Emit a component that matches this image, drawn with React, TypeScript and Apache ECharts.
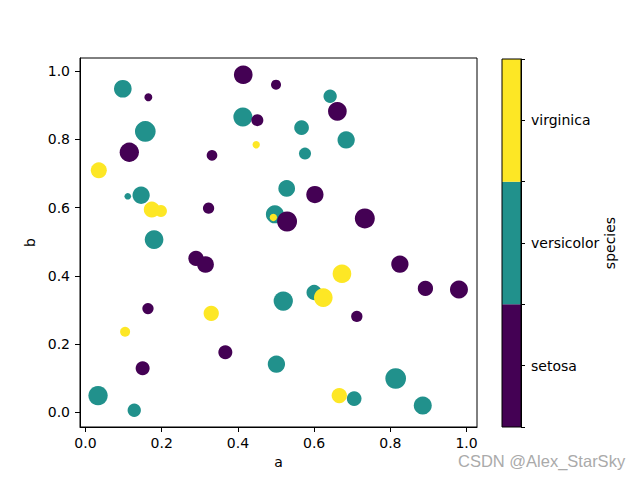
import React, { useEffect, useRef } from "react";
import * as echarts from "echarts";

// ---- data ----
const species = ["setosa", "versicolor", "virginica"];
const speciesColors = ["#440154", "#21918c", "#fde725"];

const setosaA = [0.414, 0.165, 0.5, 0.451, 0.661, 0.115, 0.332, 0.323, 0.602, 0.733, 0.529, 0.29, 0.315, 0.825, 0.892, 0.98, 0.164, 0.712, 0.367, 0.15];
const setosaB = [0.989, 0.923, 0.96, 0.856, 0.882, 0.762, 0.753, 0.598, 0.638, 0.568, 0.559, 0.451, 0.433, 0.434, 0.363, 0.36, 0.304, 0.281, 0.176, 0.129];
const setosaS = [181, 33, 52, 75, 181, 193, 59, 66, 155, 207, 207, 121, 145, 155, 121, 168, 66, 66, 102, 102];

const versicolorA = [0.098, 0.413, 0.642, 0.157, 0.567, 0.684, 0.576, 0.111, 0.146, 0.528, 0.497, 0.18, 0.6, 0.519, 0.501, 0.814, 0.033, 0.128, 0.705, 0.885];
const versicolorB = [0.948, 0.865, 0.926, 0.823, 0.834, 0.798, 0.758, 0.633, 0.636, 0.656, 0.58, 0.506, 0.351, 0.326, 0.141, 0.099, 0.049, 0.006, 0.04, 0.02];
const versicolorS = [162, 187, 92, 222, 112, 155, 75, 23, 155, 145, 168, 181, 121, 193, 155, 222, 193, 92, 112, 168];

const virginicaA = [0.448, 0.035, 0.174, 0.198, 0.493, 0.673, 0.624, 0.33, 0.104, 0.666];
const virginicaB = [0.784, 0.709, 0.594, 0.59, 0.571, 0.406, 0.336, 0.29, 0.236, 0.049];
const virginicaS = [28, 133, 133, 75, 28, 181, 181, 121, 52, 121];

const tickValues = [0, 0.2, 0.4, 0.6, 0.8, 1.0];
const colorbarTicks = [0, 0.5, 1, 1.5, 2, 2.5, 3];
const colorbarLabelPos = [0.5, 1.5, 2.5];

const FONT = "DejaVu Sans";

function autoRange(vals: number[]): [number, number] {
  const mn = Math.min(...vals);
  const mx = Math.max(...vals);
  const m = (mx - mn) * 0.05;
  return [mn - m, mx + m];
}

function zip(a: number[], b: number[], s: number[]) {
  return a.map((v, i) => [v, b[i], s[i]]);
}

export default function App() {
  const ref = useRef<HTMLDivElement>(null);
  useEffect(() => {
    if (!ref.current) return;
    document.body.style.margin = "0";
    const chart = echarts.init(ref.current, null, { renderer: "svg" });
    const xr = autoRange([...setosaA, ...versicolorA, ...virginicaA]);
    const yr = autoRange([...setosaB, ...versicolorB, ...virginicaB]);
    const symbolSize = (d: number[]) => Math.sqrt(d[2]) / 0.72;
    const scatter = (name: string, idx: number, a: number[], b: number[], s: number[]) => ({
      type: "scatter",
      name,
      xAxisIndex: 0,
      yAxisIndex: 0,
      data: zip(a, b, s),
      symbolSize,
      itemStyle: { color: speciesColors[idx], opacity: 1 },
      emphasis: { disabled: true },
    });
    const labelStyle = { color: "#000", fontFamily: FONT, fontSize: 14 };
    chart.setOption({
      animation: false,
      grid: [
        { left: 80, right: 163, top: 58, bottom: 53, show: true, borderColor: "#000", borderWidth: 1, containLabel: false, z: 5 },
        { left: 502, right: 119, top: 59, bottom: 53, show: true, borderColor: "#000", borderWidth: 1, containLabel: false, z: 5 },
      ],
      xAxis: [
        {
          type: "value",
          gridIndex: 0,
          min: xr[0],
          max: xr[1],
          name: "a",
          nameLocation: "middle",
          nameGap: 26,
          nameTextStyle: labelStyle,
          axisLine: { show: true, onZero: false, lineStyle: { color: "#000" } },
          axisTick: { show: true, customValues: tickValues, length: 5, lineStyle: { color: "#000" } },
          axisLabel: { customValues: tickValues, margin: 9, ...labelStyle, formatter: (v: number) => v.toFixed(1) },
          splitLine: { show: false },
        },
        {
          type: "category",
          gridIndex: 1,
          data: [""],
          show: false,
        },
      ],
      yAxis: [
        {
          type: "value",
          gridIndex: 0,
          min: yr[0],
          max: yr[1],
          name: "b",
          nameLocation: "middle",
          nameGap: 34,
          nameTextStyle: labelStyle,
          axisLine: { show: true, onZero: false, lineStyle: { color: "#000" } },
          axisTick: { show: true, customValues: tickValues, length: 5, lineStyle: { color: "#000" } },
          axisLabel: { customValues: tickValues, margin: 10, ...labelStyle, formatter: (v: number) => v.toFixed(1) },
          splitLine: { show: false },
        },
        {
          type: "value",
          gridIndex: 1,
          position: "right",
          min: 0,
          max: 3,
          name: "species",
          nameLocation: "middle",
          nameGap: 79,
          nameTextStyle: labelStyle,
          axisLine: { show: true, onZero: false, lineStyle: { color: "#000" } },
          axisTick: { show: true, customValues: colorbarTicks, length: 4, lineStyle: { color: "#000" } },
          axisLabel: {
            customValues: colorbarLabelPos,
            margin: 10,
            ...labelStyle,
            formatter: (v: number) => species[Math.floor(v)] ?? "",
          },
          splitLine: { show: false },
        },
      ],
      series: [
        scatter("versicolor", 1, versicolorA, versicolorB, versicolorS),
        scatter("setosa", 0, setosaA, setosaB, setosaS),
        scatter("virginica", 2, virginicaA, virginicaB, virginicaS),
        ...species.map((sp, i) => ({
          type: "bar",
          name: sp + "-bar",
          xAxisIndex: 1,
          yAxisIndex: 1,
          stack: "cb",
          barWidth: "100%",
          data: [1],
          itemStyle: { color: speciesColors[i] },
          emphasis: { disabled: true },
        })),
      ],
      graphic: [
        {
          type: "text",
          left: 458,
          top: 452,
          style: {
            text: "CSDN @Alex_StarSky",
            fill: "#aaaaaa",
            font: "16.5px 'Liberation Sans'",
          },
        },
      ],
    });
    return () => chart.dispose();
  }, []);
  return <div ref={ref} style={{ width: 640, height: 480 }} />;
}
